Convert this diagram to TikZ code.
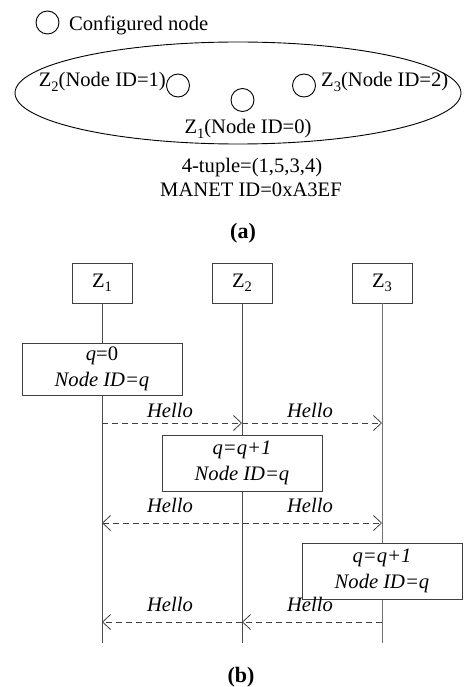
\documentclass[tikz,border=0pt]{standalone}
\usepackage{fontspec}
\setmainfont{Liberation Serif}
\usetikzlibrary{arrows.meta}
\newcommand\zsub[1]{\raisebox{-0.2em}{\fontsize{14.5}{14.5}\selectfont #1}}
\begin{document}
\begin{tikzpicture}[x=1pt,y=-1pt,
  txt/.style={inner sep=0pt,font=\fontsize{20.6}{25}\selectfont},
  ln/.style={line width=0.9pt,draw=black!75},
  life/.style={line width=0.9pt,draw=black!70},
  zbox/.style={ln,fill=white,minimum width=60pt,minimum height=40pt,inner sep=0pt,font=\fontsize{20.6}{25}\selectfont},
  actbox/.style={ln,fill=white,minimum width=160pt,inner sep=0pt,align=center,font=\fontsize{20.6}{26}\selectfont\itshape},
  msg/.style={line width=0.8pt,draw=black!75,dash pattern=on 6pt off 4pt,-{Straight Barb[length=8pt,width=15pt]}},
  lbl/.style={inner sep=0pt,anchor=base,font=\fontsize{20.6}{25}\selectfont\itshape},
  dot/.style={circle,ln,draw=black,minimum size=23pt,inner sep=0pt}
]
\useasboundingbox (0,0) rectangle (463,687);
% ---- part (a) ----
\node[dot] (leg) at (47.5,22.5) {};
\node[txt,anchor=base west] (legt) at (69,31) {Configured node};
\draw[ln,draw=black] (238,93) ellipse (223 and 51);
\node[dot] (c2) at (178,85.5) {};
\node[dot] (c1) at (242.5,100) {};
\node[dot] (c3) at (304,85.5) {};
\node[txt,anchor=base east] (t2) at (166,87) {Z\zsub{2}(Node ID=1)};
\node[txt,anchor=base west] (t3) at (321,87) {Z\zsub{3}(Node ID=2)};
\node[txt,anchor=base] (t1) at (248,134) {Z\zsub{1}(Node ID=0)};
\node[txt,anchor=base] (tup) at (252,172) {4-tuple=(1,5,3,4)};
\node[txt,anchor=base] (man) at (251,196) {MANET ID=0xA3EF};
\node[txt,anchor=base,font=\fontsize{22}{26}\selectfont\bfseries] (capa) at (243,238) {(a)};
% ---- part (b) ----
\coordinate (e1) at (102,643);
\coordinate (e2) at (242,643);
\coordinate (e3) at (382,643);
\node[zbox] (z1) at (102,283) {Z\zsub{1}};
\node[zbox] (z2) at (242,283) {Z\zsub{2}};
\node[zbox] (z3) at (382,283) {Z\zsub{3}};
\draw[life] (z1.south) -- (e1);
\draw[life] (z2.south) -- (e2);
\draw[life,draw=black!55] (z3.south) -- (e3);
\node[actbox,minimum height=52pt] (b1) at (102,369) {q\upshape{}=0\\Node ID=q};
\node[actbox,minimum height=56pt] (b2) at (242,463) {q=q+1\\Node ID=q};
\node[actbox,minimum height=56pt] (b3) at (382,571) {q=q+1\\Node ID=q};
% message 1
\coordinate (m1a) at (102,423);
\coordinate (m1b) at (242,423);
\coordinate (m1c) at (382,423);
\draw[msg] (m1a) -- (m1b);
\draw[msg] (m1b) -- (m1c);
\node[lbl] (h1a) at (170,417) {Hello};
\node[lbl] (h1b) at (310,417) {Hello};
% message 2
\coordinate (m2a) at (102,523);
\coordinate (m2c) at (382,523);
\draw[msg,{Straight Barb[length=8pt,width=15pt]}-{Straight Barb[length=8pt,width=15pt]}] (m2a) -- (m2c);
\node[lbl] (h2a) at (170,512) {Hello};
\node[lbl] (h2b) at (310,512) {Hello};
% message 3
\coordinate (m3a) at (102,622);
\coordinate (m3b) at (242,622);
\coordinate (m3c) at (382,622);
\draw[msg] (m3c) -- (m3b);
\draw[msg] (m3b) -- (m3a);
\node[lbl] (h3a) at (170,611) {Hello};
\node[lbl] (h3b) at (310,611) {Hello};
\node[txt,anchor=base,font=\fontsize{22}{26}\selectfont\bfseries] (capb) at (241,682) {(b)};
\end{tikzpicture}
\end{document}
